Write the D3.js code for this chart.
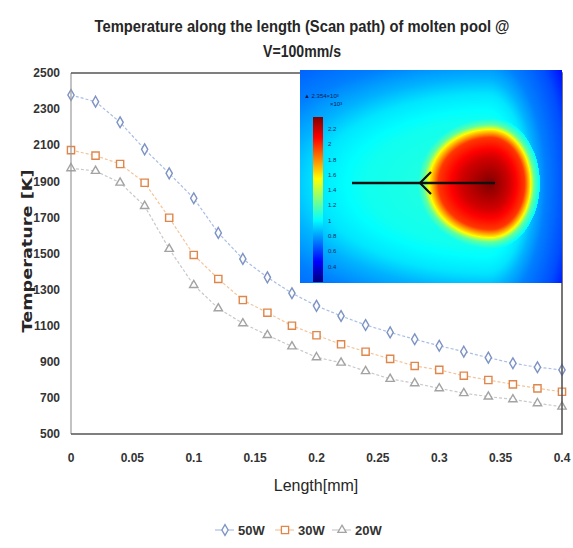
<!DOCTYPE html>
<html lang="en">
<head>
<meta charset="UTF-8">
<title>Temperature along the length</title>
<script src="https://d3js.org/d3.v7.min.js"></script>
<style>
    body { margin: 0; background: #fff; }
    text { font-family: "Liberation Sans Narrow", "Liberation Sans", sans-serif; }
</style>
</head>
<body>
<svg id="chart"></svg>
<script>
    // data
    const lengths = [0, 0.02, 0.04, 0.06, 0.08, 0.1, 0.12, 0.14, 0.16, 0.18, 0.2,
                     0.22, 0.24, 0.26, 0.28, 0.3, 0.32, 0.34, 0.36, 0.38, 0.4];
    const temp50W = [2378, 2341, 2227, 2077, 1944, 1806, 1614, 1470, 1368, 1280, 1210,
                     1154, 1104, 1063, 1025, 989, 956, 923, 892, 870, 855];
    const temp30W = [2073, 2042, 1996, 1892, 1698, 1492, 1359, 1242, 1172, 1100, 1047,
                     997, 956, 916, 877, 855, 823, 799, 775, 753, 734];
    const temp20W = [1972, 1957, 1892, 1763, 1525, 1325, 1196, 1113, 1048, 985, 925,
                     895, 848, 805, 781, 753, 726, 707, 692, 670, 651];
    const seriesNames = ['50W', '30W', '20W'];
    const xTicks = [0, 0.05, 0.1, 0.15, 0.2, 0.25, 0.3, 0.35, 0.4];
    const yTicks = [500, 700, 900, 1100, 1300, 1500, 1700, 1900, 2100, 2300, 2500];
    const cbarTicks = [2.2, 2, 1.8, 1.6, 1.4, 1.2, 1, 0.8, 0.6, 0.4];

    const width = 573, height = 548;
    const plot = { left: 71, right: 562, top: 73, bottom: 434 };

    const svg = d3.select('#chart').attr('width', width).attr('height', height);

    const x = d3.scaleLinear().domain([0, 0.4]).range([plot.left, plot.right]);
    const y = d3.scaleLinear().domain([500, 2500]).range([plot.bottom, plot.top]);

    const styles = {
        '50W': { stroke: '#7d93c4', line: '#a9bfe6', symbol: d3.symbolDiamond, size: 34 },
        '30W': { stroke: '#e0864a', line: '#f4c59c', symbol: d3.symbolSquare, size: 52 },
        '20W': { stroke: '#a3a3a3', line: '#c9c9c9', symbol: d3.symbolTriangle, size: 30 }
    };
    const series = [temp50W, temp30W, temp20W].map((vals, i) => ({
        name: seriesNames[i],
        points: lengths.map((l, j) => ({ l: l, t: vals[j] }))
    }));

    // title (tall, condensed lettering), centred on the chart area like the legend
    const title = svg.append('text')
        .attr('text-anchor', 'middle')
        .style('font-size', '17px').style('font-weight', 'bold').attr('fill', '#262626');
    title.append('tspan').attr('x', 302).attr('y', 32)
        .attr('textLength', 415).attr('lengthAdjust', 'spacingAndGlyphs')
        .text('Temperature along the length (Scan path) of molten pool @');
    title.append('tspan').attr('x', 302).attr('y', 57)
        .attr('textLength', 78).attr('lengthAdjust', 'spacingAndGlyphs')
        .text('V=100mm/s');

    // axis tick labels
    svg.append('g').selectAll('text').data(yTicks).enter().append('text')
        .attr('x', 60).attr('y', d => y(d)).attr('dy', '0.35em')
        .attr('text-anchor', 'end')
        .style('font-size', '12px').style('font-weight', 'bold').attr('fill', '#333')
        .text(d => d);

    svg.append('g').selectAll('text').data(xTicks).enter().append('text')
        .attr('x', d => x(d)).attr('y', 458).attr('dy', '0.35em')
        .attr('text-anchor', 'middle')
        .style('font-size', '12px').style('font-weight', 'bold').attr('fill', '#333')
        .text(d => d);

    svg.append('text')
        .attr('transform', 'translate(27,251) rotate(-90)')
        .attr('text-anchor', 'middle').attr('dy', '0.35em')
        .style('font-family', '"DejaVu Sans", sans-serif')
        .style('font-size', '14px').style('font-weight', 'bold').attr('fill', '#262626')
        .attr('textLength', 163).attr('lengthAdjust', 'spacingAndGlyphs')
        .text('Temperature [K]');

    svg.append('text')
        .attr('x', 316).attr('y', 485).attr('dy', '0.35em')
        .attr('text-anchor', 'middle')
        .style('font-size', '16px').attr('fill', '#262626')
        .text('Length[mm]');

    // series
    const line = d3.line().x(d => x(d.l)).y(d => y(d.t));
    const sg = svg.append('g').selectAll('g').data(series).enter().append('g');
    sg.append('path')
        .attr('d', d => line(d.points))
        .attr('fill', 'none')
        .attr('stroke', d => styles[d.name].line)
        .attr('stroke-width', 1.2)
        .attr('stroke-dasharray', '3,2');
    sg.selectAll('path.m').data(d => d.points.map(p => ({ p: p, name: d.name }))).enter()
        .append('path').attr('class', 'm')
        .attr('transform', d => `translate(${x(d.p.l)},${y(d.p.t)})`)
        .attr('d', d => d3.symbol().type(styles[d.name].symbol).size(styles[d.name].size)())
        .attr('fill', '#fdfdfd')
        .attr('stroke', d => styles[d.name].stroke)
        .attr('stroke-width', 1.4);

    // plot frame
    svg.append('line').attr('x1', plot.left).attr('x2', plot.left)
        .attr('y1', plot.top).attr('y2', plot.bottom)
        .attr('stroke', '#9a9a9a').attr('stroke-width', 1.2);
    svg.append('path')
        .attr('d', `M${plot.left},${plot.top}H${plot.right}V${plot.bottom}H${plot.left}`)
        .attr('fill', 'none').attr('stroke', '#555').attr('stroke-width', 1.6);

    // inset: simulated melt pool temperature field
    const inset = { x: 300, y: 70, w: 262, h: 213 };
    const jet = d3.scaleLinear()
        .domain([0, 0.125, 0.375, 0.625, 0.875, 1])
        .range(['#00007f', '#0000ff', '#00ffff', '#ffff00', '#ff0000', '#7f0000'])
        .clamp(true);
    const coreStops = d3.scaleLinear().domain([0, 0.5, 0.9, 1.05, 1.15, 1.3]).range([1, 0.92, 0.82, 0.64, 0.47, 0.37]).clamp(true);
    const haloStops = d3.scaleLinear().domain([0, 0.6, 0.85, 1.0, 1.2, 1.6, 1.9]).range([0.42, 0.39, 0.35, 0.3, 0.25, 0.2, 0.13]).clamp(true);

    const canvas = document.createElement('canvas');
    canvas.width = inset.w; canvas.height = inset.h;
    const ctx = canvas.getContext('2d');
    const img = ctx.createImageData(inset.w, inset.h);
    for (let j = 0; j < inset.h; j++) {
        for (let i = 0; i < inset.w; i++) {
            const u = i - 190, v = j - 113;
            const r1 = Math.hypot(u / (u > 0 ? 38 : 58), v / 51);
            const u2 = i - 185;
            const r2 = Math.hypot(u2 / (u2 > 0 ? 50 : 200), v / 105);
            const t = Math.max(r1 < 1.3 ? coreStops(r1) : 0, haloStops(r2));
            const c = d3.rgb(jet(t));
            const k = (j * inset.w + i) * 4;
            img.data[k] = c.r; img.data[k + 1] = c.g; img.data[k + 2] = c.b; img.data[k + 3] = 255;
        }
    }
    ctx.putImageData(img, 0, 0);

    const ig = svg.append('g').attr('transform', `translate(${inset.x},${inset.y})`);
    ig.append('image').attr('width', inset.w).attr('height', inset.h)
        .attr('href', canvas.toDataURL());

    // colour bar
    const cb = d3.scaleLinear().domain([0.2, 2.354]).range([212, 47]);
    const defs = svg.append('defs');
    const grad = defs.append('linearGradient').attr('id', 'jetgrad')
        .attr('x1', 0).attr('y1', 1).attr('x2', 0).attr('y2', 0);
    d3.range(0, 1.0001, 0.125).forEach(s => {
        grad.append('stop').attr('offset', s).attr('stop-color', jet(s));
    });
    ig.append('rect').attr('x', 13).attr('y', cb(2.354)).attr('width', 10)
        .attr('height', cb(0.2) - cb(2.354)).attr('fill', 'url(#jetgrad)');
    ig.append('g').selectAll('text').data(cbarTicks).enter().append('text')
        .attr('x', 28).attr('y', d => cb(d)).attr('dy', '0.35em')
        .style('font-size', '6px').attr('fill', '#1a2a60')
        .text(d => d);
    ig.append('text').attr('x', 4).attr('y', 28)
        .style('font-size', '6px').attr('fill', '#0a1a50')
        .text('\u25B2 2.354\u00D710\u00B3');
    ig.append('text').attr('x', 30).attr('y', 36)
        .style('font-size', '6px').attr('fill', '#0a1a50')
        .text('\u00D710\u00B3');

    // scan direction arrow
    ig.append('line').attr('x1', 52).attr('y1', 113).attr('x2', 195).attr('y2', 113)
        .attr('stroke', '#111').attr('stroke-width', 2.5);
    ig.append('path').attr('d', 'M131,102 L120,113 L131,124')
        .attr('fill', 'none').attr('stroke', '#111').attr('stroke-width', 2.2);

    // legend
    const legendX = [225, 285, 342];
    const lg = svg.append('g').selectAll('g').data(seriesNames).enter().append('g')
        .attr('transform', (d, i) => `translate(${legendX[i]},530)`);
    lg.append('line').attr('x1', -10).attr('x2', 9)
        .attr('stroke', d => styles[d].line).attr('stroke-width', 1.2);
    lg.append('path')
        .attr('d', d => d3.symbol().type(styles[d].symbol).size(styles[d].size)())
        .attr('fill', '#fdfdfd').attr('stroke', d => styles[d].stroke).attr('stroke-width', 1.3);
    lg.append('text').attr('x', 13).attr('dy', '0.35em')
        .style('font-size', '13px').style('font-weight', 'bold').attr('fill', '#333')
        .text(d => d);
</script>
</body>
</html>
